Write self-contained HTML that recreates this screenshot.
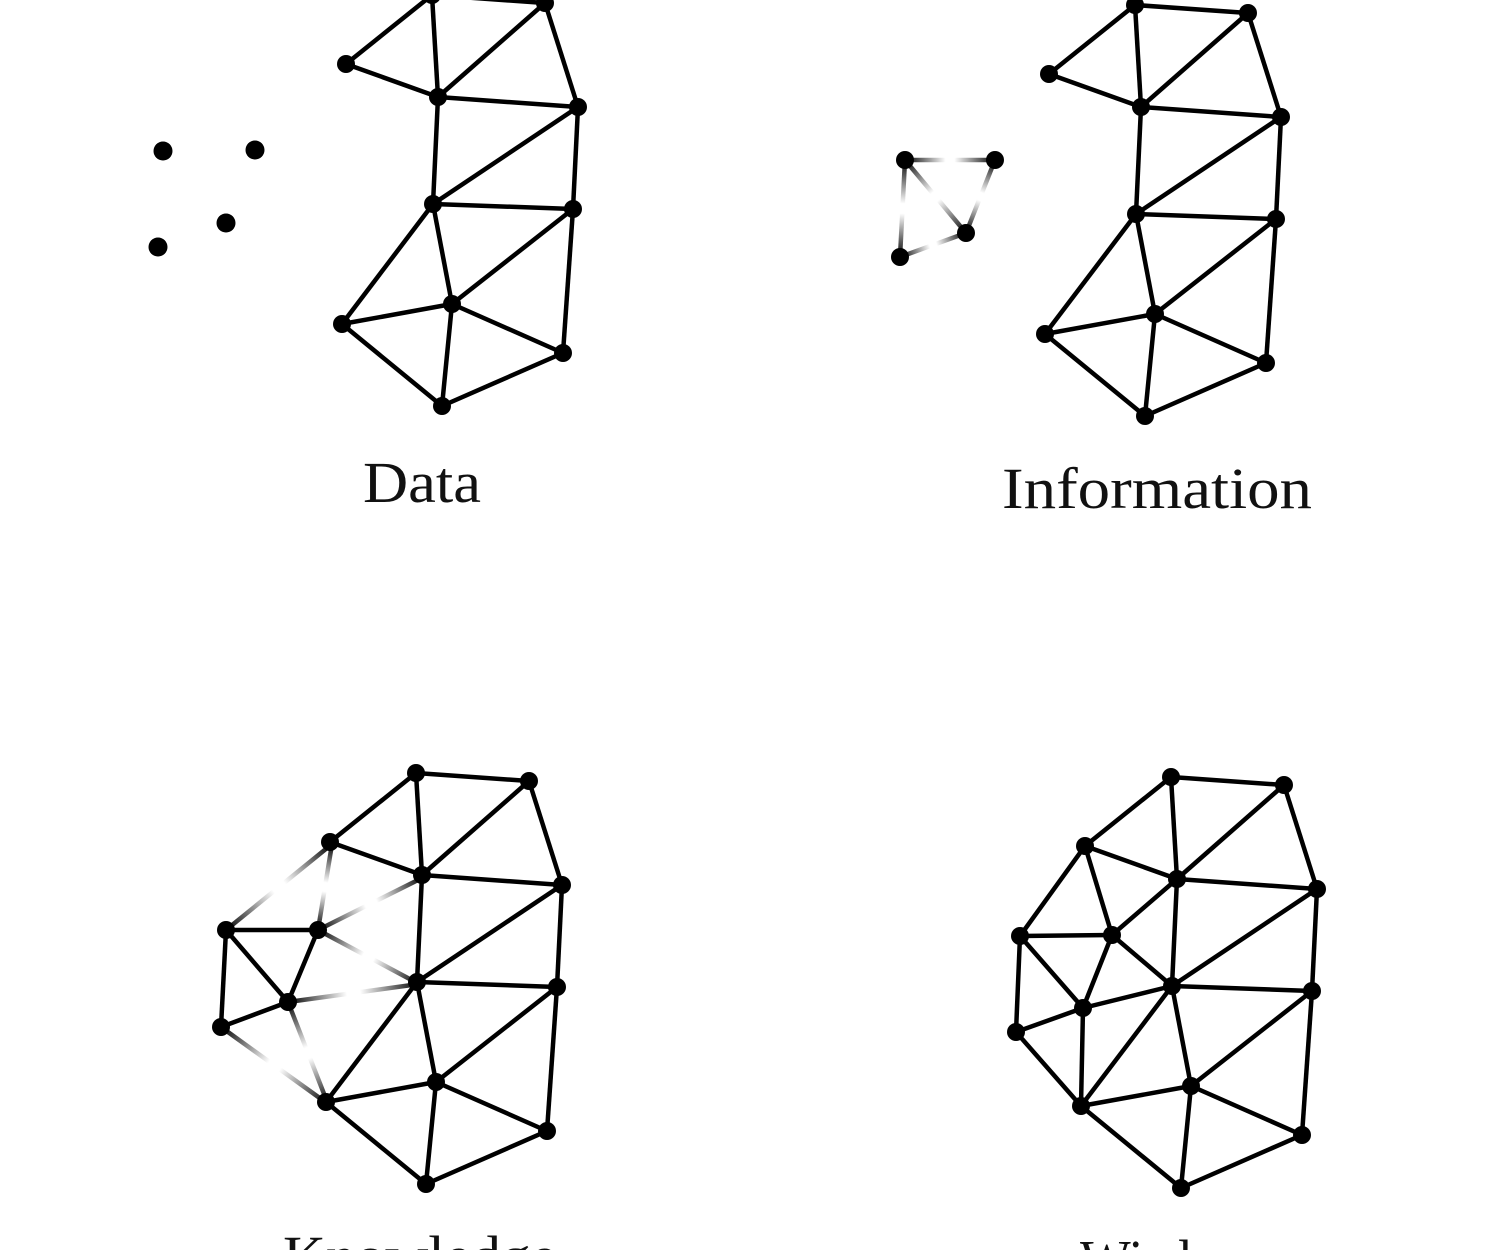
<!DOCTYPE html>
<html><head><meta charset="utf-8"><style>
html,body{margin:0;padding:0;background:#fff;width:1500px;height:1250px;overflow:hidden}
svg{display:block}
text{font-family:"Liberation Serif",serif;font-size:58px;fill:#111;text-anchor:middle}
</style></head><body>
<svg width="1500" height="1250" viewBox="0 0 1500 1250">
<defs>
<g id="mesh" stroke="#000" stroke-width="4.5" fill="#000">
<line x1="346" y1="64" x2="432" y2="-5"/>
<line x1="432" y1="-5" x2="438" y2="97"/>
<line x1="346" y1="64" x2="438" y2="97"/>
<line x1="432" y1="-5" x2="545" y2="3"/>
<line x1="545" y1="3" x2="438" y2="97"/>
<line x1="545" y1="3" x2="578" y2="107"/>
<line x1="438" y1="97" x2="578" y2="107"/>
<line x1="438" y1="97" x2="433" y2="204"/>
<line x1="578" y1="107" x2="433" y2="204"/>
<line x1="578" y1="107" x2="573" y2="209"/>
<line x1="433" y1="204" x2="573" y2="209"/>
<line x1="433" y1="204" x2="342" y2="324"/>
<line x1="433" y1="204" x2="452" y2="304"/>
<line x1="573" y1="209" x2="452" y2="304"/>
<line x1="573" y1="209" x2="563" y2="353"/>
<line x1="342" y1="324" x2="452" y2="304"/>
<line x1="342" y1="324" x2="442" y2="406"/>
<line x1="452" y1="304" x2="442" y2="406"/>
<line x1="452" y1="304" x2="563" y2="353"/>
<line x1="563" y1="353" x2="442" y2="406"/>
<g stroke="none">
<circle cx="432" cy="-5" r="9"/><circle cx="545" cy="3" r="9"/><circle cx="346" cy="64" r="9"/>
<circle cx="438" cy="97" r="9"/><circle cx="578" cy="107" r="9"/><circle cx="433" cy="204" r="9"/>
<circle cx="573" cy="209" r="9"/><circle cx="342" cy="324" r="9"/><circle cx="452" cy="304" r="9"/>
<circle cx="563" cy="353" r="9"/><circle cx="442" cy="406" r="9"/>
</g>
</g>
<linearGradient id="g1" gradientUnits="userSpaceOnUse" x1="905" y1="160" x2="995" y2="160"><stop offset="0" stop-opacity="1"/><stop offset="0.45" stop-opacity="0"/><stop offset="0.55" stop-opacity="0"/><stop offset="1" stop-opacity="1"/></linearGradient>
<linearGradient id="g2" gradientUnits="userSpaceOnUse" x1="905" y1="160" x2="966" y2="233"><stop offset="0" stop-opacity="1"/><stop offset="0.45" stop-opacity="0"/><stop offset="0.55" stop-opacity="0"/><stop offset="1" stop-opacity="1"/></linearGradient>
<linearGradient id="g3" gradientUnits="userSpaceOnUse" x1="995" y1="160" x2="966" y2="233"><stop offset="0" stop-opacity="1"/><stop offset="0.45" stop-opacity="0"/><stop offset="0.55" stop-opacity="0"/><stop offset="1" stop-opacity="1"/></linearGradient>
<linearGradient id="g4" gradientUnits="userSpaceOnUse" x1="905" y1="160" x2="900" y2="257"><stop offset="0" stop-opacity="1"/><stop offset="0.45" stop-opacity="0"/><stop offset="0.55" stop-opacity="0"/><stop offset="1" stop-opacity="1"/></linearGradient>
<linearGradient id="g5" gradientUnits="userSpaceOnUse" x1="900" y1="257" x2="966" y2="233"><stop offset="0" stop-opacity="1"/><stop offset="0.45" stop-opacity="0"/><stop offset="0.55" stop-opacity="0"/><stop offset="1" stop-opacity="1"/></linearGradient>
<linearGradient id="k1" gradientUnits="userSpaceOnUse" x1="332" y1="844" x2="226" y2="930"><stop offset="0" stop-opacity="1"/><stop offset="0.45" stop-opacity="0"/><stop offset="0.55" stop-opacity="0"/><stop offset="1" stop-opacity="1"/></linearGradient>
<linearGradient id="k2" gradientUnits="userSpaceOnUse" x1="332" y1="844" x2="318" y2="930"><stop offset="0" stop-opacity="1"/><stop offset="0.45" stop-opacity="0"/><stop offset="0.55" stop-opacity="0"/><stop offset="1" stop-opacity="1"/></linearGradient>
<linearGradient id="k3" gradientUnits="userSpaceOnUse" x1="318" y1="930" x2="424" y2="877"><stop offset="0" stop-opacity="1"/><stop offset="0.45" stop-opacity="0"/><stop offset="0.55" stop-opacity="0"/><stop offset="1" stop-opacity="1"/></linearGradient>
<linearGradient id="k4" gradientUnits="userSpaceOnUse" x1="318" y1="930" x2="419" y2="984"><stop offset="0" stop-opacity="1"/><stop offset="0.45" stop-opacity="0"/><stop offset="0.55" stop-opacity="0"/><stop offset="1" stop-opacity="1"/></linearGradient>
<linearGradient id="k5" gradientUnits="userSpaceOnUse" x1="288" y1="1002" x2="419" y2="984"><stop offset="0" stop-opacity="1"/><stop offset="0.45" stop-opacity="0"/><stop offset="0.55" stop-opacity="0"/><stop offset="1" stop-opacity="1"/></linearGradient>
<linearGradient id="k6" gradientUnits="userSpaceOnUse" x1="221" y1="1027" x2="328" y2="1104"><stop offset="0" stop-opacity="1"/><stop offset="0.45" stop-opacity="0"/><stop offset="0.55" stop-opacity="0"/><stop offset="1" stop-opacity="1"/></linearGradient>
<linearGradient id="k7" gradientUnits="userSpaceOnUse" x1="288" y1="1002" x2="328" y2="1104"><stop offset="0" stop-opacity="1"/><stop offset="0.45" stop-opacity="0"/><stop offset="0.55" stop-opacity="0"/><stop offset="1" stop-opacity="1"/></linearGradient>
</defs>

<!-- Data -->
<use href="#mesh"/>
<g fill="#000">
<circle cx="163" cy="151" r="9.5"/><circle cx="255" cy="150" r="9.5"/>
<circle cx="226" cy="223" r="9.5"/><circle cx="158" cy="247" r="9.5"/>
</g>
<text x="422" y="502" textLength="118" lengthAdjust="spacingAndGlyphs">Data</text>

<!-- Information -->
<use href="#mesh" transform="translate(703,10)"/>
<g stroke-width="4.5">
<line x1="905" y1="160" x2="995" y2="160" stroke="url(#g1)"/>
<line x1="905" y1="160" x2="966" y2="233" stroke="url(#g2)"/>
<line x1="995" y1="160" x2="966" y2="233" stroke="url(#g3)"/>
<line x1="905" y1="160" x2="900" y2="257" stroke="url(#g4)"/>
<line x1="900" y1="257" x2="966" y2="233" stroke="url(#g5)"/>
</g>
<g fill="#000">
<circle cx="905" cy="160" r="9"/><circle cx="995" cy="160" r="9"/>
<circle cx="966" cy="233" r="9"/><circle cx="900" cy="257" r="9"/>
</g>
<text x="1157" y="508" textLength="310" lengthAdjust="spacingAndGlyphs">Information</text>

<!-- Knowledge -->
<use href="#mesh" transform="translate(-16,778)"/>
<g stroke-width="4.5">
<line x1="332" y1="844" x2="226" y2="930" stroke="url(#k1)"/>
<line x1="332" y1="844" x2="318" y2="930" stroke="url(#k2)"/>
<line x1="318" y1="930" x2="424" y2="877" stroke="url(#k3)"/>
<line x1="318" y1="930" x2="419" y2="984" stroke="url(#k4)"/>
<line x1="288" y1="1002" x2="419" y2="984" stroke="url(#k5)"/>
<line x1="221" y1="1027" x2="328" y2="1104" stroke="url(#k6)"/>
<line x1="288" y1="1002" x2="328" y2="1104" stroke="url(#k7)"/>
</g>
<g stroke="#000" stroke-width="4.5">
<line x1="226" y1="930" x2="318" y2="930"/>
<line x1="226" y1="930" x2="288" y2="1002"/>
<line x1="318" y1="930" x2="288" y2="1002"/>
<line x1="226" y1="930" x2="221" y2="1027"/>
<line x1="221" y1="1027" x2="288" y2="1002"/>
</g>
<g fill="#000">
<circle cx="226" cy="930" r="9"/><circle cx="318" cy="930" r="9"/>
<circle cx="288" cy="1002" r="9"/><circle cx="221" cy="1027" r="9"/>
</g>
<text x="420" y="1276" textLength="274" lengthAdjust="spacingAndGlyphs">Knowledge</text>

<!-- Wisdom -->
<use href="#mesh" transform="translate(739,782)"/>
<g stroke="#000" stroke-width="4.5">
<line x1="1085" y1="846" x2="1020" y2="936"/>
<line x1="1085" y1="846" x2="1112" y2="935"/>
<line x1="1112" y1="935" x2="1177" y2="879"/>
<line x1="1112" y1="935" x2="1172" y2="986"/>
<line x1="1083" y1="1008" x2="1172" y2="986"/>
<line x1="1016" y1="1032" x2="1081" y2="1106"/>
<line x1="1083" y1="1008" x2="1081" y2="1106"/>
<line x1="1020" y1="936" x2="1112" y2="935"/>
<line x1="1020" y1="936" x2="1083" y2="1008"/>
<line x1="1112" y1="935" x2="1083" y2="1008"/>
<line x1="1020" y1="936" x2="1016" y2="1032"/>
<line x1="1016" y1="1032" x2="1083" y2="1008"/>
</g>
<g fill="#000">
<circle cx="1020" cy="936" r="9"/><circle cx="1112" cy="935" r="9"/>
<circle cx="1083" cy="1008" r="9"/><circle cx="1016" cy="1032" r="9"/>
</g>
<text x="1170" y="1280" textLength="180" lengthAdjust="spacingAndGlyphs">Wisdom</text>
</svg>
</body></html>
